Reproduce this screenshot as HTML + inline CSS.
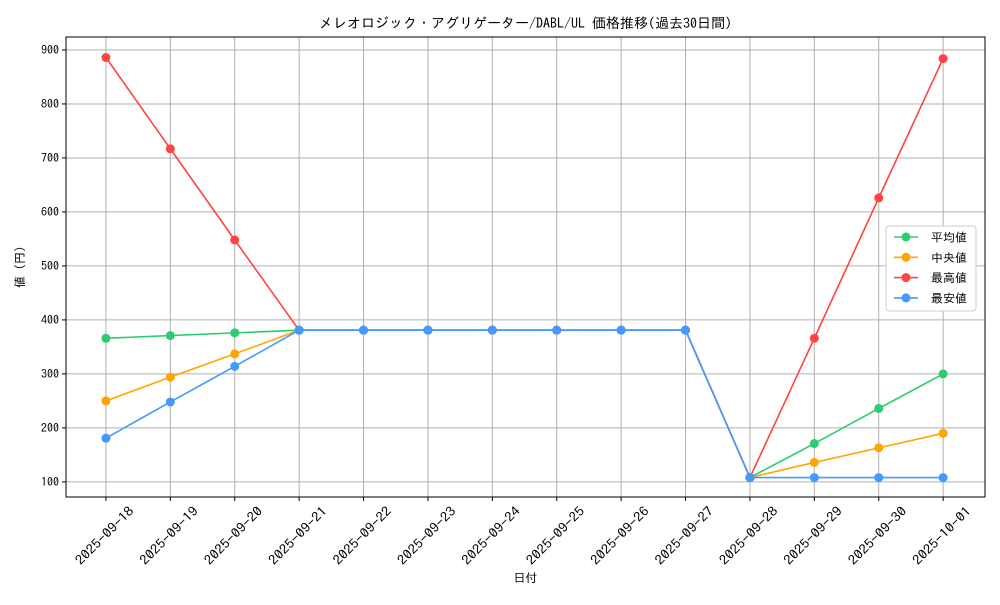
<!DOCTYPE html>
<html><head><meta charset="utf-8"><style>
body{margin:0;background:#fff;}
svg text{font-family:"IPAGothic","Liberation Mono","Noto Sans CJK JP",monospace;fill:#000;}
</style></head><body>
<svg id="c" width="1000" height="600" xmlns="http://www.w3.org/2000/svg"></svg>
<script>
const categories=["2025-09-18","2025-09-19","2025-09-20","2025-09-21","2025-09-22","2025-09-23","2025-09-24","2025-09-25","2025-09-26","2025-09-27","2025-09-28","2025-09-29","2025-09-30","2025-10-01"];
const avgValues=[366,371,376,381,381,381,381,381,381,381,108,171,236,300];
const medianValues=[250,294,337,381,381,381,381,381,381,381,108,136,163,190];
const maxValues=[886,717,548,381,381,381,381,381,381,381,108,366,626,884];
const minValues=[181,248,314,381,381,381,381,381,381,381,108,108,108,108];
const yTicks=[100,200,300,400,500,600,700,800,900];
const seriesNames=["平均値","中央値","最高値","最安値"];
const colors=["#2ecc71","#ffa500","#ff4444","#4499ff"];

const svg=document.getElementById('c');
const NS="http://www.w3.org/2000/svg";
const L=66,R=985,T=37,B=497;
const xMin=-0.62,xMax=categories.length-1+0.65;
const yMin=72,yMax=924;
const xs=i=>L+(i-xMin)/(xMax-xMin)*(R-L);
const ys=v=>B-(v-yMin)/(yMax-yMin)*(B-T);
function mk(tag,attrs,parent){const e=document.createElementNS(NS,tag);for(const k in attrs)e.setAttribute(k,attrs[k]);(parent||svg).appendChild(e);return e;}

const grid=mk('g',{});


categories.forEach((c,i)=>{const x=xs(i);
 mk('line',{x1:x,x2:x,y1:T,y2:B,stroke:'#b0b0b0','stroke-width':1},grid);
 mk('line',{x1:x,x2:x,y1:B,y2:B+4,stroke:'#000'});
 const t=mk('text',{x:0,y:4,'font-size':13,'text-anchor':'middle',textLength:76,lengthAdjust:'spacingAndGlyphs',transform:`translate(${x-1},${536}) rotate(-45)`});
 t.textContent=c;
 
 
});
yTicks.forEach(v=>{const y=ys(v);
 mk('line',{x1:L,x2:R,y1:y,y2:y,stroke:'#b0b0b0','stroke-width':1},grid);
 mk('line',{x1:L-4,x2:L,y1:y,y2:y,stroke:'#000'});
 const t=mk('text',{x:L-7,y:y+4,'font-size':12,'text-anchor':'end'});
 t.textContent=v;
 
 
});
const frame=mk('rect',{x:L,y:T,width:R-L,height:B-T,fill:'none',stroke:'#000','stroke-width':1});



[avgValues,medianValues,maxValues,minValues].forEach((vals,s)=>{
 const g=mk('g',{});
 
 
 mk('polyline',{points:vals.map((v,i)=>xs(i)+','+ys(v)).join(' '),fill:'none',stroke:colors[s],'stroke-width':1.6},g);
 vals.forEach((v,i)=>{const p=mk('circle',{cx:xs(i),cy:ys(v),r:4.5,fill:colors[s]},g);
  
  });
});

const title=mk('text',{x:(L+R)/2,y:28,'font-size':14,'text-anchor':'middle'});
title.textContent="メレオロジック・アグリゲーター/DABL/UL 価格推移(過去30日間)";


const xt=mk('text',{x:(L+R)/2,y:582,'font-size':12,'text-anchor':'middle'});
xt.textContent="日付";


const yt=mk('text',{x:0,y:0,'font-size':12,'text-anchor':'middle',transform:`translate(24,${(T+B)/2}) rotate(-90)`});
yt.textContent="値 (円)";



const lg=mk('g',{});


mk('rect',{x:886,y:226,width:90,height:85,rx:3,fill:'#fff',stroke:'#ccc'},lg);
seriesNames.forEach((n,i)=>{const y=237+i*20.3;
 const e=mk('g',{},lg);
 
 
 mk('line',{x1:894,x2:918,y1:y,y2:y,stroke:colors[i],'stroke-width':1.6},e);
 mk('circle',{cx:906,cy:y,r:4.5,fill:colors[i]},e);
 const t=mk('text',{x:931,y:y+4.5,'font-size':12},e);t.textContent=n;
});
</script>
</body></html>
